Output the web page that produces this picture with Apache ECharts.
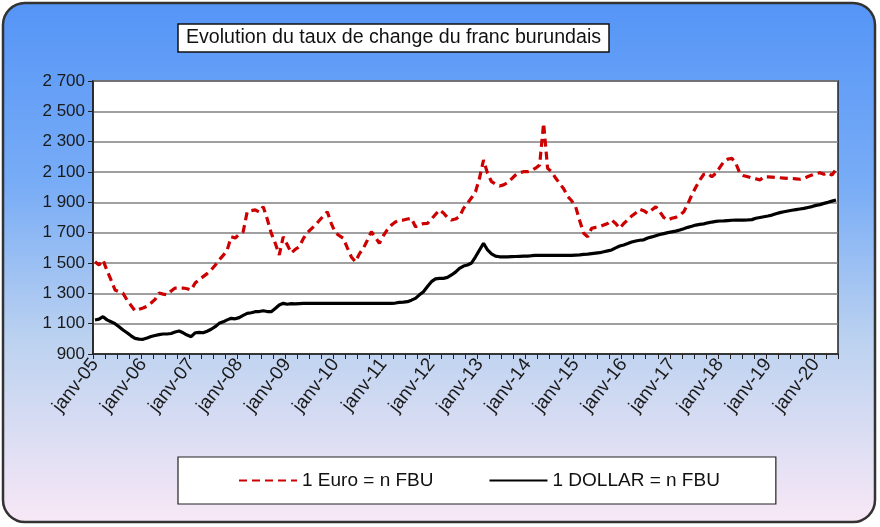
<!DOCTYPE html>
<html>
<head>
<meta charset="utf-8">
<script src="https://cdn.jsdelivr.net/npm/echarts@6/dist/echarts.min.js"></script>
<style>
html,body{margin:0;padding:0;background:#fff;}
#chart{width:880px;height:527px;}
</style>
</head>
<body>
<div id="chart"></div>
<script>
// ---- DATA ----
var monthNames = ['janv','févr','mars','avr','mai','juin','juil','août','sept','oct','nov','déc'];
var years = ['05','06','07','08','09','10','11','12','13','14','15','16','17','18','19','20'];
var lastYearMonths = 6;

var yTicks = [900, 1100, 1300, 1500, 1700, 1900, 2100, 2300, 2500, 2700];

var euro = [
  1508, 1487, 1520, 1450, 1388, 1322, 1310, 1300, 1256, 1220, 1185, 1195,
  1203, 1215, 1236, 1260, 1302, 1295, 1290, 1315, 1335, 1335, 1335, 1330,
  1322, 1368, 1390, 1410, 1430, 1454, 1485, 1520, 1550, 1585, 1673, 1665,
  1690, 1706, 1838, 1845, 1850, 1836, 1871, 1790, 1697, 1630, 1553, 1673,
  1620, 1566, 1590, 1607, 1660, 1700, 1725, 1750, 1780, 1810, 1838, 1760,
  1700, 1680, 1663, 1600, 1540, 1508, 1560, 1597, 1650, 1706, 1670, 1630,
  1680, 1720, 1750, 1770, 1783, 1783, 1790, 1795, 1739, 1750, 1760, 1761,
  1790, 1820, 1850, 1830, 1800, 1783, 1790, 1805, 1860, 1893, 1930, 1970,
  2060, 2179, 2091, 2036, 2020, 2008, 2015, 2029, 2055, 2080, 2095, 2102,
  2102, 2110, 2125, 2146, 2421, 2124, 2102, 2060, 2025, 1990, 1940, 1910,
  1871, 1780, 1696, 1673, 1729, 1735, 1739, 1750, 1761, 1783, 1760, 1729,
  1760, 1783, 1810, 1830, 1855, 1845, 1828, 1850, 1871, 1838, 1800, 1783,
  1795, 1801, 1815, 1838, 1890, 1948, 2000, 2047, 2085, 2091, 2069, 2091,
  2130, 2168, 2185, 2190, 2157, 2091, 2075, 2069, 2060, 2055, 2047, 2069,
  2068, 2066, 2064, 2062, 2060, 2058, 2058, 2055, 2052, 2058, 2070, 2080,
  2090, 2095, 2085, 2095, 2080, 2118
];

var dollar = [
  1124, 1130, 1146, 1125, 1113, 1100, 1080, 1058, 1040, 1020, 1003, 998,
  997, 1005, 1015, 1022, 1028, 1032, 1032, 1035, 1045, 1052, 1040, 1025,
  1014, 1040, 1042, 1040, 1050, 1063, 1080, 1102, 1112, 1125, 1135, 1132,
  1140, 1155, 1168, 1172, 1179, 1180, 1185, 1180, 1179, 1200, 1223, 1234,
  1228, 1232, 1230, 1232, 1234, 1234, 1234, 1234, 1234, 1234, 1234, 1234,
  1234, 1234, 1234, 1234, 1234, 1234, 1234, 1234, 1234, 1234, 1234, 1234,
  1234, 1234, 1234, 1236, 1240, 1242, 1245, 1255, 1267, 1290, 1311, 1345,
  1377, 1395, 1399, 1399, 1405, 1421, 1440, 1465, 1480, 1487, 1500, 1541,
  1586, 1630, 1586, 1560, 1545, 1541, 1541, 1541, 1542, 1543, 1544, 1545,
  1545, 1548, 1550, 1550, 1550, 1550, 1550, 1550, 1550, 1550, 1550, 1550,
  1552, 1554, 1557, 1559, 1562, 1565, 1568, 1574, 1580, 1586, 1600, 1612,
  1619, 1628, 1638, 1645, 1650, 1653, 1665, 1672, 1680, 1688, 1694, 1700,
  1705, 1710, 1718, 1726, 1735, 1742, 1750, 1755, 1758, 1765, 1770, 1774,
  1777, 1778, 1780, 1782, 1783, 1783, 1783, 1784, 1786, 1795, 1800, 1805,
  1810, 1816, 1825, 1832, 1838, 1843, 1848, 1852, 1856, 1860, 1866, 1872,
  1880, 1885, 1893, 1900, 1908, 1915
];

var titleText = 'Evolution du taux de change du franc burundais';
var euroName = '1 Euro = n FBU';
var dollarName = '1 DOLLAR = n FBU';

// ---- BUILD ----
var categories = [];
years.forEach(function (y, i) {
  var n = (i === years.length - 1) ? lastYearMonths : 12;
  for (var m = 0; m < n; m++) categories.push(monthNames[m] + '-' + y);
});

var FONT = '"Liberation Sans", Arial, sans-serif';
var chart = echarts.init(document.getElementById('chart'), null, {renderer: 'canvas'});

chart.setOption({
  animation: false,
  backgroundColor: 'transparent',
  graphic: [{
    type: 'rect',
    z: -10,
    silent: true,
    shape: {x: 3, y: 3, width: 872, height: 519, r: 22},
    style: {
      fill: new echarts.graphic.LinearGradient(0, 0, 0, 1, [
        {offset: 0, color: '#5595f7'},
        {offset: 0.35, color: '#78acf6'},
        {offset: 0.65, color: '#bcd2f0'},
        {offset: 1, color: '#f8e8f6'}
      ]),
      stroke: '#333333',
      lineWidth: 2.5
    }
  }],
  title: {
    text: titleText,
    left: 178,
    top: 24,
    padding: [4, 8, 4, 8],
    backgroundColor: '#ffffff',
    borderColor: '#111',
    borderWidth: 1.5,
    textStyle: {fontFamily: FONT, fontSize: 19.6, fontWeight: 'normal', color: '#111'}
  },
  legend: {
    left: 178,
    top: 457,
    width: 595,
    padding: [14, 56, 14, 60],
    backgroundColor: '#ffffff',
    borderColor: '#222',
    borderWidth: 1.2,
    itemWidth: 58,
    itemHeight: 14,
    itemGap: 55,
    itemStyle: {opacity: 0},
    textStyle: {fontFamily: FONT, fontSize: 19, color: '#111'},
    data: [euroName, dollarName]
  },
  grid: {
    left: 93, right: 42, top: 81, bottom: 173,
    show: true,
    backgroundColor: '#ffffff',
    borderColor: '#222',
    borderWidth: 1.5
  },
  xAxis: {
    type: 'category',
    data: categories,
    boundaryGap: true,
    axisLine: {lineStyle: {color: '#222', width: 1.5}},
    axisTick: {show: true, interval: 2, length: 5, lineStyle: {color: '#222', width: 1}},
    axisLabel: {
      interval: 11,
      rotate: 52,
      margin: 7,
      fontFamily: FONT,
      fontSize: 19,
      color: '#1a1a1a'
    },
    splitLine: {show: false}
  },
  yAxis: {
    type: 'value',
    min: yTicks[0],
    max: yTicks[yTicks.length - 1],
    interval: yTicks[1] - yTicks[0],
    axisLine: {show: true, lineStyle: {color: '#222', width: 1.5}},
    axisTick: {show: true, length: 5, lineStyle: {color: '#222', width: 1}},
    axisLabel: {
      margin: 8,
      fontFamily: FONT,
      fontSize: 17,
      color: '#1a1a1a',
      formatter: function (v) {
        var s = String(v);
        return s.length > 3 ? s.slice(0, s.length - 3) + ' ' + s.slice(-3) : s;
      }
    },
    splitLine: {show: true, lineStyle: {color: '#808080', width: 1.6}}
  },
  series: [
    {
      name: euroName,
      type: 'line',
      data: euro,
      symbol: 'none',
      smooth: false,
      lineStyle: {color: '#cc0000', width: 3.2, type: [8, 5]},
      itemStyle: {color: '#cc0000'},
      z: 3
    },
    {
      name: dollarName,
      type: 'line',
      data: dollar,
      symbol: 'none',
      smooth: false,
      lineStyle: {color: '#000000', width: 3.2},
      itemStyle: {color: '#000000'},
      z: 4
    }
  ]
});
</script>
</body>
</html>
